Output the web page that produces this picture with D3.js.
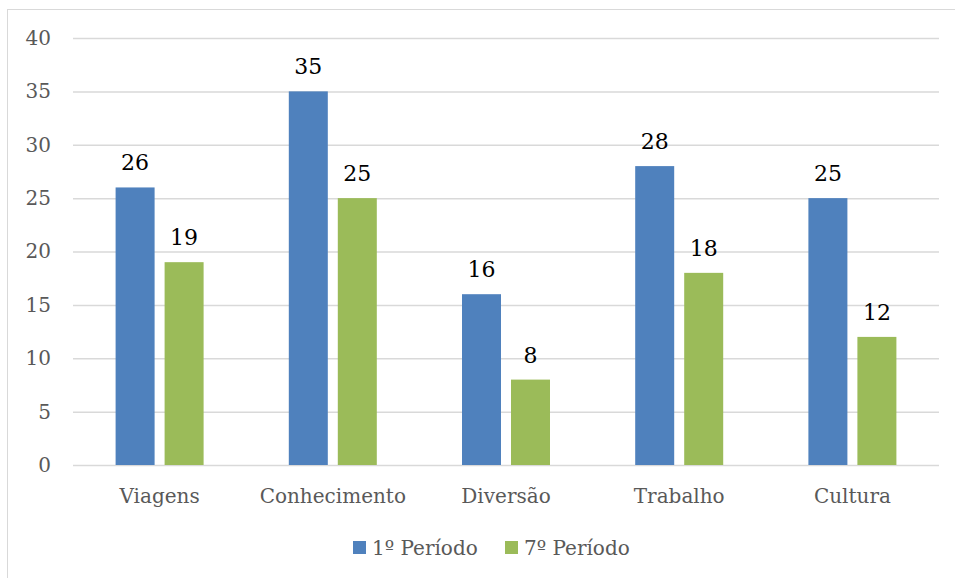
<!DOCTYPE html>
<html><head><meta charset="utf-8">
<script src="https://cdn.jsdelivr.net/npm/d3@7"></script>
<style>body{margin:0;background:#fff}svg{display:block}</style>
</head><body><div id="c"></div>
<script>
const categories = ["Viagens","Conhecimento","Diversão","Trabalho","Cultura"];
const seriesNames = ["1º Período","7º Período"];
const periodo1 = [26,35,16,28,25];
const periodo7 = [19,25,8,18,12];
const yTicks = [0,5,10,15,20,25,30,35,40];
const colors = ["#4f81bd","#9bbb59"];

const W=955,H=578;
const font="'DejaVu Serif', serif";
const svg=d3.select("#c").append("svg").attr("width",W).attr("height",H);
svg.append("rect").attr("x",7.5).attr("y",9.5).attr("width",W).attr("height",H).attr("fill","#fff").attr("stroke","#d9d9d9");

const x=d3.scaleBand().domain(categories).range([73,939]);
const y=d3.scaleLinear().domain([0,40]).range([465,38]);

const ya=svg.append("g").attr("transform","translate(73,0)")
  .call(d3.axisLeft(y).tickValues(yTicks).tickSize(-866).tickPadding(22));
ya.select(".domain").remove();
ya.selectAll(".tick line").attr("stroke","#d9d9d9").attr("stroke-width",1.5);
ya.selectAll(".tick text").attr("fill","#595959").style("font-family",font).style("font-size","20px");

const xa=svg.append("g").attr("transform","translate(0,465)")
  .call(d3.axisBottom(x).tickSize(0).tickPadding(24));
xa.select(".domain").remove();
xa.selectAll(".tick text").attr("fill","#595959").style("font-family",font).style("font-size","20px");

const data=[periodo1,periodo7];
const barW=39, off=24.5;
data.forEach((vals,si)=>{
  const g=svg.append("g");
  g.selectAll("rect").data(vals).join("rect")
    .attr("x",(d,i)=>x(categories[i])+x.bandwidth()/2+(si===0?-off:off)-barW/2)
    .attr("width",barW)
    .attr("y",d=>y(d)).attr("height",d=>y(0)-y(d))
    .attr("fill",colors[si]);
  g.selectAll("text").data(vals).join("text")
    .attr("x",(d,i)=>x(categories[i])+x.bandwidth()/2+(si===0?-off:off))
    .attr("y",d=>y(d)-17)
    .attr("text-anchor","middle").attr("fill","#000")
    .style("font-family",font).style("font-size","22px")
    .text(d=>d);
});

const leg=svg.append("g");
const legX=[353,505];
seriesNames.forEach((n,i)=>{
  leg.append("rect").attr("x",legX[i]).attr("y",541).attr("width",13).attr("height",13).attr("fill",colors[i]);
  leg.append("text").attr("x",legX[i]+19).attr("y",555).attr("fill","#595959")
    .style("font-family",font).style("font-size","20px").text(n);
});
</script></body></html>
